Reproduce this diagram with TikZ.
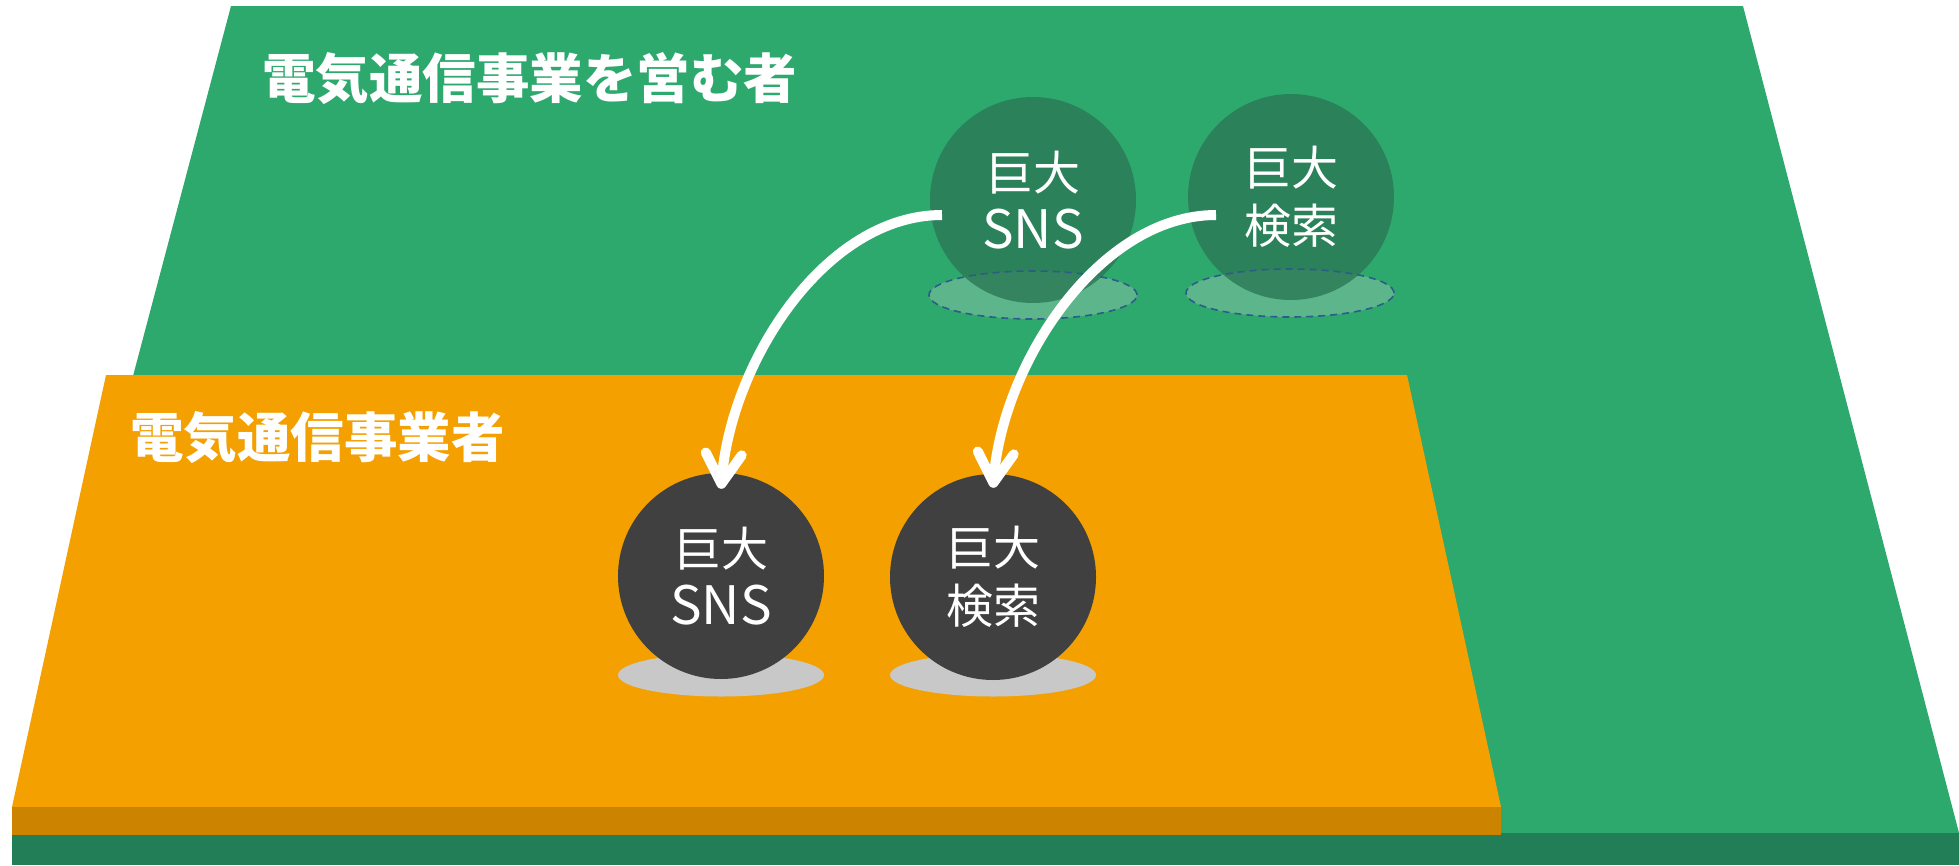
\documentclass[tikz,border=0pt]{standalone}
\usepackage{fontspec}
\newfontfamily\jpfont{Noto Sans CJK JP}
\usetikzlibrary{arrows.meta,shapes.geometric,calc}
\definecolor{fieldgreen}{HTML}{2EA96E}
\definecolor{banddarkgreen}{HTML}{227E56}
\definecolor{fieldorange}{HTML}{F4A000}
\definecolor{bandorange}{HTML}{CC8400}
\definecolor{topcirc}{HTML}{2B7855}
\definecolor{topshade}{HTML}{5CB58B}
\definecolor{dashblue}{HTML}{2E5C8A}
\definecolor{botcirc}{HTML}{404040}
\definecolor{botshade}{HTML}{C8C8C8}
\newcommand{\latinbig}{\fontsize{53}{58.5}\selectfont}
\begin{document}
\begin{tikzpicture}[x=1pt,y=-1pt,
  ttl/.style={text=white,font=\jpfont\bfseries\fontsize{53.5}{60}\selectfont,anchor=west,inner sep=0pt},
  ballbase/.style={circle,minimum size=206pt,inner sep=0pt,text=white,align=center,
     font=\jpfont\fontsize{47}{58.5}\selectfont},
  topball/.style={ballbase,fill=topcirc,fill opacity=0.8,text opacity=1},
  botball/.style={ballbase,fill=botcirc},
  topfloor/.style={ellipse,minimum width=208pt,minimum height=48pt,inner sep=0pt,fill=topshade},
  topring/.style={ellipse,minimum width=208pt,minimum height=48pt,inner sep=0pt,draw=dashblue,line width=1.6pt,dash pattern=on 7pt off 5pt},
  botfloor/.style={ellipse,minimum width=206pt,minimum height=43pt,inner sep=0pt,fill=botshade},
  movearrow/.style={draw=white,line width=10pt,-{Straight Barb[length=30pt,width=36pt,round]}}
]
\useasboundingbox (0,0) rectangle (1959,865);
% green layer
\fill[fieldgreen] (231,6) -- (1743,6) -- (1959,833) -- (12,833) -- cycle;
\fill[banddarkgreen] (12,833) rectangle (1959,865);
% orange layer
\fill[fieldorange] (106,375) -- (1407,375) -- (1501,807) -- (12,807) -- cycle;
\fill[bandorange] (12,807) rectangle (1501,835);
% titles
\node[ttl] (outerlabel) at (262,79) {電気通信事業を営む者};
\node[ttl] (innerlabel) at (130,438) {電気通信事業者};
% top (outer) services
\node[topfloor] (snsfloor) at (1033,295) {};
\node[topfloor] (srchfloor) at (1290,293) {};
\node[topball] (snsTop) at (1033,200) {巨大\\\latinbig SNS};
\node[topball] (srchTop) at (1291,197) {巨大\\検索};
\node[topring] (snsring) at (1033,295) {};
\node[topring] (srchring) at (1290,293) {};
% bottom (inner) services
\node[botfloor] (snsshadow) at (721,675) {};
\node[botfloor] (srchshadow) at (993,675) {};
\node[botball] (snsBot) at (721,576) {巨大\\\latinbig SNS};
\node[botball] (srchBot) at (993,577) {巨大\\検索};
% arrows
\coordinate (s1) at (942,215);
\coordinate (s2) at (1216,215);
\coordinate (e1) at ($(snsBot.north)+(0,16)$);
\coordinate (e2) at ($(srchBot.north)+(0,14)$);
\draw[movearrow] (s1) .. controls (825,215) and (731,362) .. (e1);
\draw[movearrow] (s2) .. controls (1100,215) and (1003,362) .. (e2);
\end{tikzpicture}
\end{document}
